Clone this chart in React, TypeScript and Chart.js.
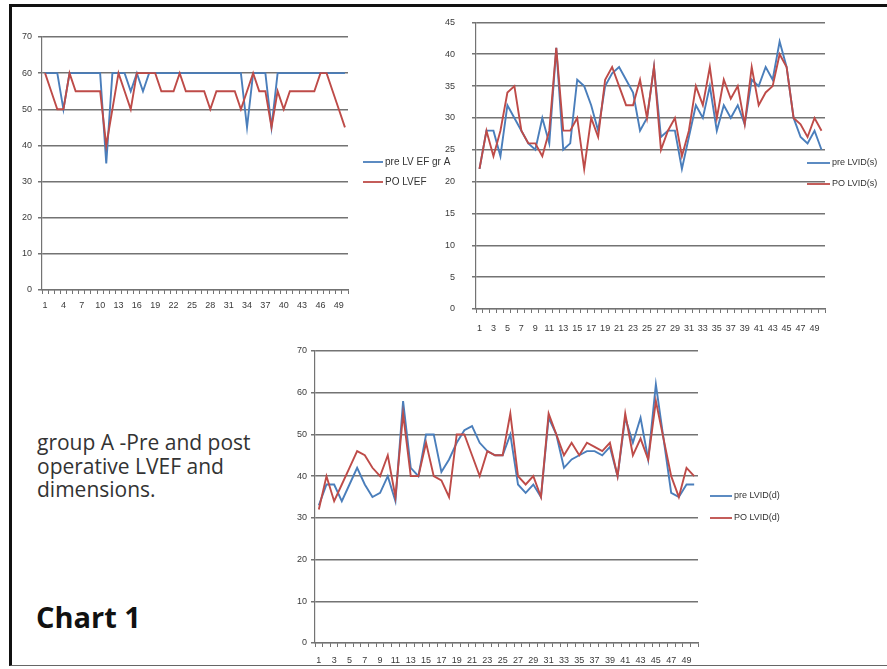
import React, { useEffect, useRef } from 'react';
import { Chart, registerables } from 'chart.js';

Chart.register(...registerables);
Chart.defaults.font.family = '"Liberation Sans", Arial, sans-serif';

// ---- data ----
const patients = [
  '1','2','3','4','5','6','7','8','9','10',
  '11','12','13','14','15','16','17','18','19','20',
  '21','22','23','24','25','26','27','28','29','30',
  '31','32','33','34','35','36','37','38','39','40',
  '41','42','43','44','45','46','47','48','49','50',
];

const preLVEF = [
  60, 60, 60, 50, 60, 60, 60, 60, 60, 60,
  35, 60, 60, 60, 55, 60, 55, 60, 60, 60,
  60, 60, 60, 60, 60, 60, 60, 60, 60, 60,
  60, 60, 60, 45, 60, 60, 60, 45, 60, 60,
  60, 60, 60, 60, 60, 60, 60, 60, 60, 60,
];
const poLVEF = [
  60, 55, 50, 50, 60, 55, 55, 55, 55, 55,
  40, 50, 60, 55, 50, 60, 60, 60, 60, 55,
  55, 55, 60, 55, 55, 55, 55, 50, 55, 55,
  55, 55, 50, 55, 60, 55, 55, 45, 55, 50,
  55, 55, 55, 55, 55, 60, 60, 55, 50, 45,
];

const preLVIDs = [
  22, 28, 28, 24, 32, 30, 28, 26, 25, 30,
  26, 41, 25, 26, 36, 35, 32, 28, 35, 37,
  38, 36, 34, 28, 30, 38, 27, 28, 28, 22,
  27, 32, 30, 35, 28, 32, 30, 32, 29, 36,
  35, 38, 36, 42, 38, 30, 27, 26, 28, 25,
];
const poLVIDs = [
  22, 28, 24, 28, 34, 35, 28, 26, 26, 24,
  28, 41, 28, 28, 30, 22, 30, 27, 36, 38,
  35, 32, 32, 36, 30, 38, 25, 28, 30, 24,
  28, 35, 32, 38, 30, 36, 33, 35, 29, 38,
  32, 34, 35, 40, 38, 30, 29, 27, 30, 28,
];

const preLVIDd = [
  33, 38, 38, 34, 38, 42, 38, 35, 36, 40,
  34, 58, 42, 40, 50, 50, 41, 44, 48, 51,
  52, 48, 46, 45, 45, 50, 38, 36, 38, 35,
  54, 50, 42, 44, 45, 46, 46, 45, 47, 40,
  54, 48, 54, 44, 62, 49, 36, 35, 38, 38,
];
const poLVIDd = [
  32, 40, 34, 38, 42, 46, 45, 42, 40, 45,
  35, 55, 40, 40, 48, 40, 39, 35, 50, 50,
  45, 40, 46, 45, 45, 55, 40, 38, 40, 35,
  55, 50, 45, 48, 45, 48, 47, 46, 48, 40,
  55, 45, 49, 44, 58, 49, 40, 35, 42, 40,
];

const BLUE = '#4A7EBB';
const RED = '#BE4B48';
const GRID = '#737373';
const TICK_TEXT = '#3a3a3a';

// legend drawn by a small plugin at a fixed spot of each canvas
const manualLegend = {
  id: 'manualLegend',
  afterDraw(chart: any, _args: any, opts: any) {
    if (!opts || opts.x === undefined) return;
    const ctx = chart.ctx;
    ctx.save();
    chart.data.datasets.forEach((ds: any, i: number) => {
      const y = opts.y + i * opts.gap;
      ctx.strokeStyle = ds.borderColor;
      ctx.lineWidth = 1.8;
      ctx.beginPath();
      ctx.moveTo(opts.x, y);
      ctx.lineTo(opts.x + opts.len, y);
      ctx.stroke();
      ctx.fillStyle = '#333';
      ctx.font = `${opts.size}px "Liberation Sans", Arial, sans-serif`;
      ctx.textBaseline = 'middle';
      ctx.textAlign = 'left';
      ctx.fillText(ds.label, opts.x + opts.len + 2, y);
    });
    ctx.restore();
  },
};

type Spec = {
  pre: number[];
  po: number[];
  preLabel: string;
  poLabel: string;
  max: number;
  step: number;
  every: number;
  yWidth: number;
  xHeight: number;
  padTop: number;
  padRight: number;
  yPad: number;
  xPad: number;
  legend: { x: number; y: number; gap: number; len: number; size: number };
};

function LineBox({ spec, left, top, width, height }: { spec: Spec; left: number; top: number; width: number; height: number }) {
  const ref = useRef<HTMLCanvasElement>(null);
  useEffect(() => {
    if (!ref.current) return;
    const chart = new Chart(ref.current, {
      type: 'line',
      data: {
        labels: patients,
        datasets: [
          { label: spec.preLabel, data: spec.pre, borderColor: BLUE, backgroundColor: BLUE, borderWidth: 1.9, pointRadius: 0, tension: 0, order: 2 },
          { label: spec.poLabel, data: spec.po, borderColor: RED, backgroundColor: RED, borderWidth: 1.9, pointRadius: 0, tension: 0, order: 1 },
        ],
      },
      options: {
        responsive: false,
        animation: false,
        events: [],
        layout: { padding: { left: 0, top: spec.padTop, right: spec.padRight, bottom: 0 } },
        plugins: {
          legend: { display: false },
          tooltip: { enabled: false },
          manualLegend: spec.legend,
        } as any,
        scales: {
          x: {
            type: 'category',
            offset: true,
            grid: { display: true, drawOnChartArea: false, drawTicks: true, tickLength: 4, offset: true, color: GRID, lineWidth: 1 },
            border: { display: true, color: GRID, width: 1.2 },
            ticks: {
              autoSkip: false,
              maxRotation: 0,
              minRotation: 0,
              padding: spec.xPad,
              color: TICK_TEXT,
              font: { size: 9 },
              callback: function (this: any, value: any, index: number) {
                return index % spec.every === 0 ? this.getLabelForValue(value) : '';
              },
            },
            afterFit: (s: any) => { s.height = spec.xHeight; },
          },
          y: {
            min: 0,
            max: spec.max,
            ticks: { stepSize: spec.step, padding: spec.yPad, color: TICK_TEXT, font: { size: 9 } },
            grid: { color: GRID, lineWidth: 1.5, drawTicks: true, tickLength: 4 },
            border: { display: true, color: GRID, width: 1.2 },
            afterFit: (s: any) => { s.width = spec.yWidth; },
          },
        },
      },
      plugins: [manualLegend as any],
    });
    return () => chart.destroy();
  }, [spec]);
  return (
    <canvas
      ref={ref}
      width={width}
      height={height}
      style={{ position: 'absolute', left, top, width, height }}
    />
  );
}

const spec1: Spec = {
  pre: preLVEF, po: poLVEF, preLabel: 'pre LV EF gr A', poLabel: 'PO LVEF',
  max: 70, step: 10, every: 3, yWidth: 42, xHeight: 30, padTop: 37, padRight: 122, yPad: 6, xPad: 6,
  legend: { x: 363, y: 162, gap: 20, len: 20, size: 10 },
};
const spec2: Spec = {
  pre: preLVIDs, po: poLVIDs, preLabel: 'pre LVID(s)', poLabel: 'PO LVID(s)',
  max: 45, step: 5, every: 2, yWidth: 36, xHeight: 31, padTop: 19, padRight: 62, yPad: 17, xPad: 10,
  legend: { x: 367, y: 163, gap: 21, len: 23, size: 9 },
};
const spec3: Spec = {
  pre: preLVIDd, po: poLVIDd, preLabel: 'pre LVID(d)', poLabel: 'PO LVID(d)',
  max: 70, step: 10, every: 2, yWidth: 45, xHeight: 26, padTop: 16, padRight: 189, yPad: 4, xPad: 8,
  legend: { x: 440, y: 161, gap: 22, len: 22, size: 9 },
};

export default function App() {
  return (
    <div style={{ position: 'absolute', left: 0, top: 0, width: 887, height: 669, background: '#fff', overflow: 'hidden' }}>
      <div style={{ position: 'absolute', left: 9, top: 4, width: 878, height: 662, borderTop: '3px solid #111', borderLeft: '3px solid #111', borderBottom: '1px solid #666', boxSizing: 'border-box' }} />
      <LineBox spec={spec1} left={0} top={0} width={470} height={320} />
      <LineBox spec={spec2} left={440} top={0} width={447} height={340} />
      <LineBox spec={spec3} left={270} top={335} width={617} height={334} />
      <div style={{ position: 'absolute', left: 37, top: 431, fontFamily: '"Open Sans", sans-serif', fontSize: 21, lineHeight: '23.5px', color: '#333', whiteSpace: 'nowrap' }}>
        group A -Pre and post<br />operative LVEF and<br />dimensions.
      </div>
      <div style={{ position: 'absolute', left: 36, top: 597, fontFamily: '"Open Sans", sans-serif', fontSize: 29, fontWeight: 700, lineHeight: '40px', color: '#111', whiteSpace: 'nowrap' }}>
        Chart 1
      </div>
    </div>
  );
}
